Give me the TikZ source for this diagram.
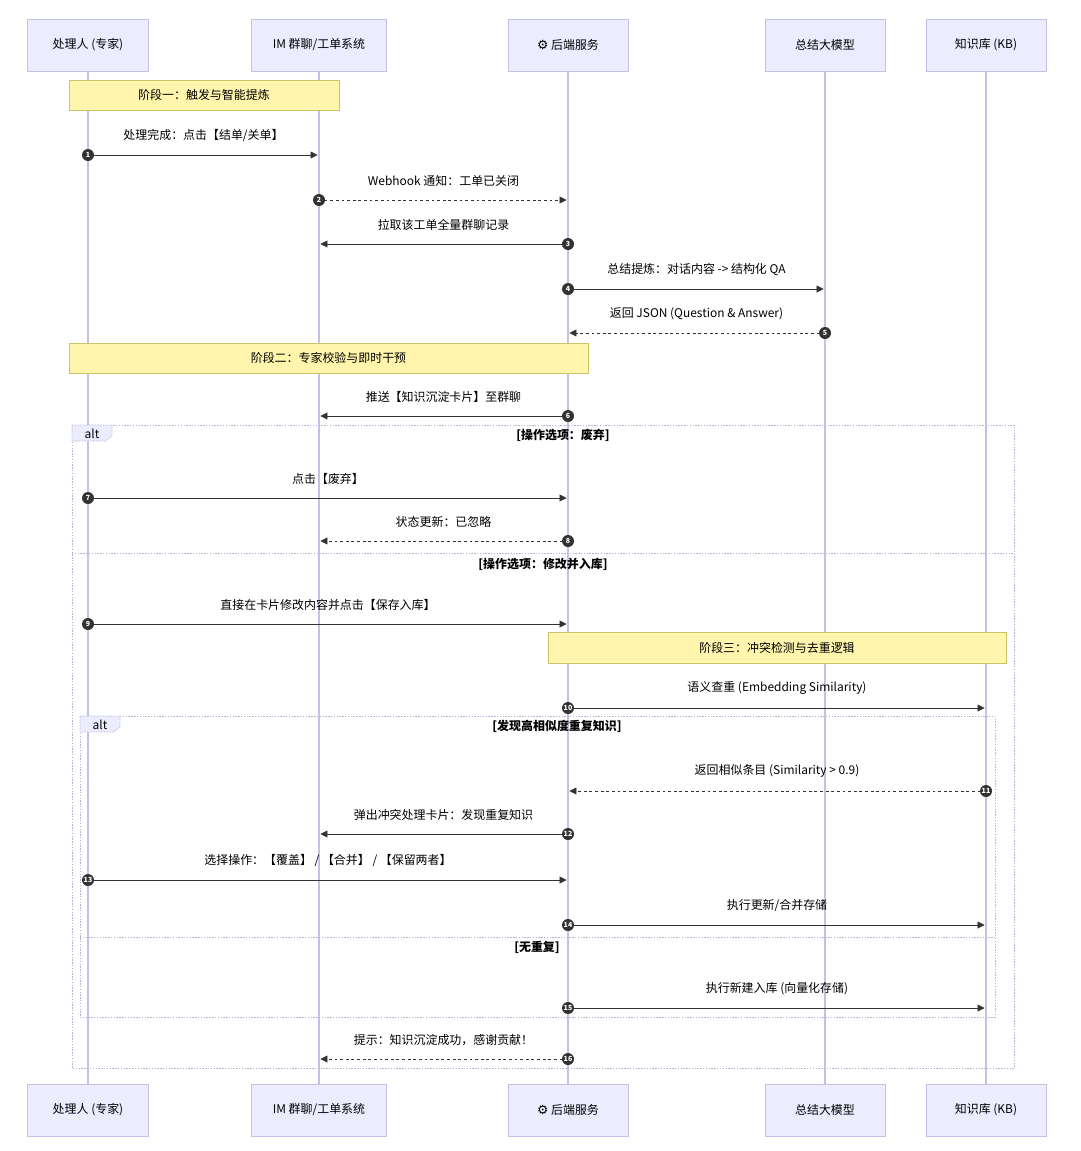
\documentclass[tikz,border=0pt]{standalone}
\usepackage{fontspec}
\setmainfont{Noto Sans CJK SC}
\newfontfamily\symfont{DejaVu Sans}
\usetikzlibrary{arrows.meta, positioning, calc}
\definecolor{actfill}{HTML}{ECECFF}
\definecolor{actline}{HTML}{C6BFE6}
\definecolor{notefill}{HTML}{FFF5AD}
\definecolor{noteline}{HTML}{C9C46A}
\definecolor{msgline}{HTML}{333333}
\tikzset{
	actor/.style={
		draw=actline,
		fill=actfill,
		minimum width=3cm,
		minimum height=1.3cm,
		font=\fontsize{8.5}{10}\selectfont
	},
	note/.style={
		draw=noteline,
		fill=notefill,
		font=\fontsize{8.5}{10}\selectfont
	},
	msg/.style={
		draw=msgline,
		thin,
		-{Triangle[length=5pt,width=5pt]}
	},
	ret/.style={
		msg,
		dash pattern=on 2pt off 2pt
	},
	num/.style={
		circle,
		fill=msgline,
		inner sep=0pt,
		minimum size=0.3cm,
		text=white,
		font=\fontsize{5}{6}\selectfont\bfseries
	},
	lbl/.style={
		font=\fontsize{8.5}{10}\selectfont
	},
	frame/.style={
		draw=actline!80!gray,
		dash pattern=on 1pt off 1pt
	}
}
\begin{document}
\begin{tikzpicture}[x=0.025cm, y=-0.025cm]
	\useasboundingbox (0,0) rectangle (1080,1151);

	% participants
	\foreach \i/\x/\w/\txt in {1/88/121/{处理人 (专家)},
		2/319/135/{IM 群聊/工单系统},
		3/568/120/{{\symfont\small ⚙} 后端服务},
		4/825/120/{总结大模型},
		5/986/120/{知识库 (KB)}} {
		\draw[actline, thick] (\x,71) -- (\x,1084);
		\node[actor, minimum width=\w*0.025cm] (p\i) at (\x,45) {\txt};
		\node[actor, minimum width=\w*0.025cm] (q\i) at (\x,1110) {\txt};
	}

	% alt frames
	\draw[frame] (72,425) rectangle (1014,1068);
	\draw[frame] (72,553) -- (1014,553);
	\draw[frame, fill=actfill] (72,425) -- (112,425) -- (112,436) -- (106,441) -- (72,441) -- cycle;
	\node[lbl] (alt1) at (92,434) {alt};
	\node[lbl, font=\fontsize{8.5}{10}\selectfont\bfseries] (c1) at (563,435) {[操作选项：废弃]};
	\node[lbl, font=\fontsize{8.5}{10}\selectfont\bfseries] (c2) at (543,564) {[操作选项：修改并入库]};

	\draw[frame] (80,716) rectangle (995,1017);
	\draw[frame] (80,937) -- (995,937);
	\draw[frame, fill=actfill] (80,716) -- (120,716) -- (120,727) -- (114,732) -- (80,732) -- cycle;
	\node[lbl] (alt2) at (100,725) {alt};
	\node[lbl, font=\fontsize{8.5}{10}\selectfont\bfseries] (c3) at (557,726) {[发现高相似度重复知识]};
	\node[lbl, font=\fontsize{8.5}{10}\selectfont\bfseries] (c4) at (537,947) {[无重复]};

	% notes
	\node[note, minimum width=270*0.025cm, minimum height=30*0.025cm] (n1) at (204,95) {阶段一：触发与智能提炼};
	\node[note, minimum width=519*0.025cm, minimum height=30*0.025cm] (n2) at (328.5,358) {阶段二：专家校验与即时干预};
	\node[note, minimum width=458*0.025cm, minimum height=31*0.025cm] (n3) at (777,647.5) {阶段三：冲突检测与去重逻辑};

	% messages
	\foreach \n/\y/\a/\b/\st/\txt in {
		1/155/1/2/msg/{处理完成：点击【结单/关单】},
		2/200/2/3/ret/{Webhook 通知：工单已关闭},
		3/244/3/2/msg/{拉取该工单全量群聊记录},
		4/289/3/4/msg/{总结提炼：对话内容 -> 结构化 QA},
		5/333/4/3/ret/{返回 JSON (Question \& Answer)},
		6/416/3/2/msg/{推送【知识沉淀卡片】至群聊},
		7/498/1/3/msg/{点击【废弃】},
		8/541/3/2/ret/{状态更新：已忽略},
		9/624/1/3/msg/{直接在卡片修改内容并点击【保存入库】},
		10/708/3/5/msg/{语义查重 (Embedding Similarity)},
		11/791/5/3/ret/{返回相似条目 (Similarity > 0.9)},
		12/834/3/2/msg/{弹出冲突处理卡片：发现重复知识},
		13/880/1/3/msg/{选择操作：【覆盖】 / 【合并】 / 【保留两者】},
		14/925/3/5/msg/{执行更新/合并存储},
		15/1008/3/5/msg/{执行新建入库 (向量化存储)},
		16/1059/3/2/ret/{提示：知识沉淀成功，感谢贡献！}} {
		\coordinate (s\n) at (p\a.center |- 0,\y);
		\coordinate (t\n) at (p\b.center |- 0,\y);
		\draw[\st, shorten >=1pt] (s\n) -- (t\n);
		\node[num] (k\n) at (s\n) {\n};
		\node[lbl, above=6pt] (l\n) at ($(s\n)!0.5!(t\n)$) {\txt};
	}
\end{tikzpicture}
\end{document}
